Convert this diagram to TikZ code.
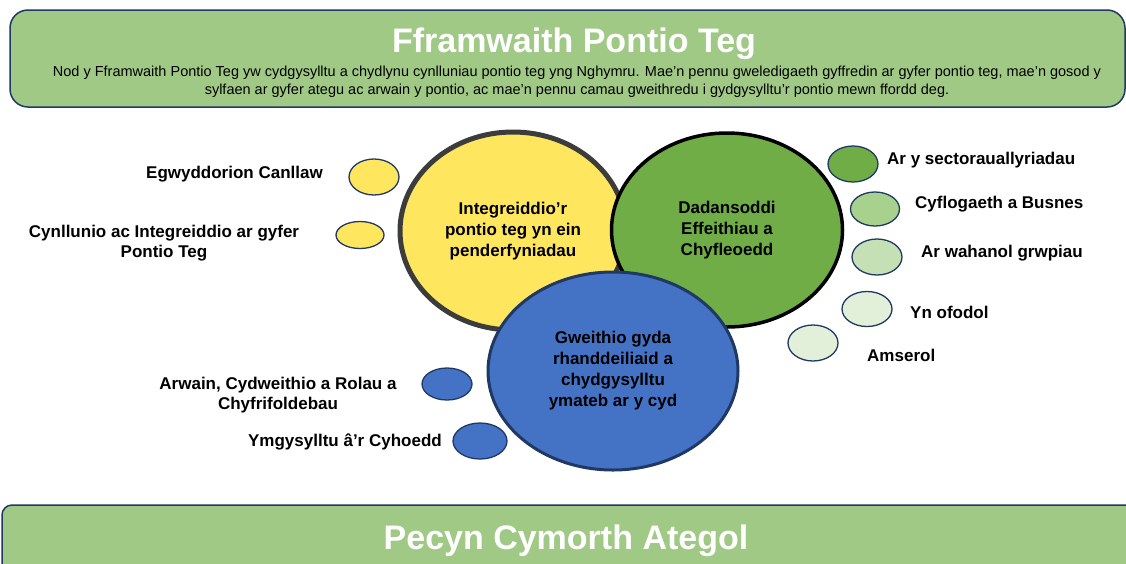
\documentclass[tikz,border=0pt]{standalone}
\usepackage{fontspec}
\setmainfont{Liberation Sans}
\usetikzlibrary{shapes.geometric}
\definecolor{boxgreen}{RGB}{160,201,134}
\definecolor{navy}{RGB}{32,56,100}
\definecolor{cyellow}{RGB}{255,230,95}
\definecolor{cgreen}{RGB}{112,173,71}
\definecolor{cblue}{RGB}{68,114,196}
\definecolor{gtwo}{RGB}{169,209,142}
\definecolor{gthree}{RGB}{197,224,180}
\definecolor{gfour}{RGB}{226,240,217}
\definecolor{ringgray}{RGB}{60,60,60}
\begin{document}
\begin{tikzpicture}[x=1pt,y=-1pt,
  banner/.style={draw=navy, line width=1.5pt, fill=boxgreen, inner sep=0pt},
  bigtitle/.style={text=white, font=\fontsize{34}{38}\selectfont\bfseries, inner sep=0pt},
  bigcircle/.style={ellipse, inner sep=0pt, align=center, font=\fontsize{17}{21}\selectfont\bfseries},
  dot/.style={ellipse, draw=navy, line width=1.3pt, inner sep=0pt},
  lbl/.style={font=\fontsize{17}{20}\selectfont\bfseries, inner sep=0pt, align=center}]
\useasboundingbox (0,0) rectangle (1126,563);
\clip (0,0) rectangle (1126,563);

% top banner
\node[banner, rounded corners=18pt, minimum width=1115pt, minimum height=97pt] (top) at (567.5,58.5) {};
\node[bigtitle, anchor=base] (title) at (574,52) {Fframwaith Pontio Teg};
\node[inner sep=0pt, anchor=base, align=center, font=\fontsize{14.5}{18}\selectfont] (sub) at (577,94)
 {Nod y Fframwaith Pontio Teg yw cydgysylltu a chydlynu cynlluniau pontio teg yng Nghymru. Mae'n pennu gweledigaeth gyffredin ar gyfer pontio teg, mae'n gosod y\\
  sylfaen ar gyfer ategu ac arwain y pontio, ac mae'n pennu camau gweithredu i gydgysylltu'r pontio mewn ffordd deg.};

% bottom banner
\node[banner, rounded corners=10pt, minimum width=1138pt, minimum height=95pt] (bottom) at (571,552.5) {};
\node[bigtitle, anchor=base] (btitle) at (566,549) {Pecyn Cymorth Ategol};

% big circles
\node[bigcircle, draw=ringgray, line width=5pt, fill=cyellow, minimum width=226pt, minimum height=198pt] (yel) at (513,231)
 {Integreiddio’r\\pontio teg yn ein\\penderfyniadau};
\node[bigcircle, draw=black, line width=3.5pt, fill=cgreen, minimum width=231pt, minimum height=194pt] (grn) at (727,230)
 {Dadansoddi\\Effeithiau a\\Chyfleoedd};
\node[bigcircle, draw=navy, line width=3pt, fill=cblue, minimum width=250pt, minimum height=198pt] (blu) at (613,371)
 {Gweithio gyda\\rhanddeiliaid a\\chydgysylltu\\ymateb ar y cyd};

% small ellipses
\node[dot, fill=cyellow, minimum width=50pt, minimum height=36pt] (y1) at (374,177) {};
\node[dot, fill=cyellow, minimum width=48pt, minimum height=27pt] (y2) at (360,235) {};
\node[dot, fill=cgreen, minimum width=50pt, minimum height=36pt] (g1) at (853,164) {};
\node[dot, fill=gtwo, minimum width=49pt, minimum height=34pt] (g2) at (875,209) {};
\node[dot, fill=gthree, minimum width=50pt, minimum height=36pt] (g3) at (877,257) {};
\node[dot, fill=gfour, minimum width=50pt, minimum height=35pt] (g4) at (867,309) {};
\node[dot, fill=gfour, minimum width=50pt, minimum height=36pt] (g5) at (813,343) {};
\node[dot, fill=cblue, minimum width=50pt, minimum height=32pt] (b1) at (447,384) {};
\node[dot, fill=cblue, minimum width=54pt, minimum height=36pt] (b2) at (480,441) {};

% labels
\node[lbl, anchor=mid east] (leg) at (323,176) {Egwyddorion Canllaw};
\node[lbl] (lcyn) at (164,243) {Cynllunio ac Integreiddio ar gyfer\\Pontio Teg};
\node[lbl, anchor=mid west] (lsec) at (887,162) {Ar y sectorauallyriadau};
\node[lbl, anchor=mid west] (lcyf) at (915,206) {Cyflogaeth a Busnes};
\node[lbl, anchor=mid west] (lwah) at (921,255) {Ar wahanol grwpiau};
\node[lbl, anchor=mid west] (lofo) at (910,316) {Yn ofodol};
\node[lbl, anchor=mid west] (lams) at (867,359) {Amserol};
\node[lbl] (larw) at (278,395) {Arwain, Cydweithio a Rolau a\\Chyfrifoldebau};
\node[lbl, anchor=mid east] (lymg) at (442,444) {Ymgysylltu â’r Cyhoedd};
\end{tikzpicture}
\end{document}
